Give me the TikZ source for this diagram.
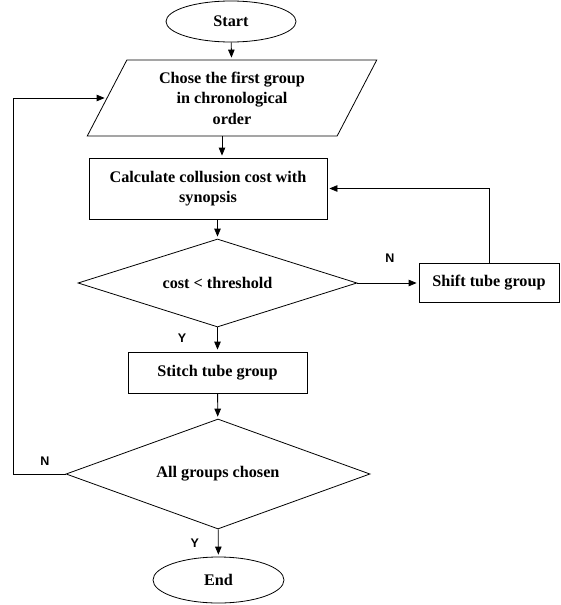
\documentclass[tikz,border=0pt]{standalone}
\usepackage{fontspec}
\setmainfont{Liberation Serif}
\newfontfamily\yesnofont{Liberation Sans}
\usetikzlibrary{shapes.geometric,arrows.meta}

\begin{document}
\begin{tikzpicture}[->,>={Triangle[length=8pt,width=6.5pt]},shorten >=2pt,auto,
                    thick,x=1pt,y=-1pt,node distance=90pt,
                    font=\fontsize{16.2}{20.5}\selectfont\bfseries]
\tikzstyle{terminal}=[draw,ellipse,minimum width=130pt,minimum height=41pt,inner sep=0pt]
\tikzstyle{io}=[draw,trapezium,trapezium left angle=53,trapezium right angle=127,
                trapezium stretches body,minimum width=289.5pt,minimum height=76pt,
                align=center,inner sep=0pt]
\tikzstyle{process}=[draw,rectangle,align=center,inner sep=0pt]
\tikzstyle{decision}=[draw,diamond,inner sep=0pt]
\tikzstyle{yesno}=[font=\fontsize{12.5}{14}\selectfont\yesnofont\bfseries,inner sep=1pt]
\useasboundingbox (0,0) rectangle (560,605);
\node[terminal] (start) at (231,21.5) {Start};
\node[io] (first) [node distance=76.5pt,below of=start,xshift=1pt]
     {Chose the first group\\in chronological\\order};
\node[process,minimum width=238pt,minimum height=61pt] (calc)
     [node distance=90.5pt,below of=first,xshift=-24pt]
     {Calculate collusion cost with\\synopsis};
\node[decision,aspect=3.17,minimum width=279pt,minimum height=88pt] (costok)
     [node distance=94.5pt,below of=calc,xshift=9.5pt] {cost < threshold};
\node[process,minimum width=140pt,minimum height=39pt] (shift)
     [node distance=271.5pt,right of=costok] {Shift tube group};
\node[process,minimum width=179pt,minimum height=41pt] (stitch)
     [node distance=89.5pt,below of=costok] {Stitch tube group};
\node[decision,aspect=2.76,minimum width=304pt,minimum height=110pt] (allchosen)
     [node distance=101.5pt,below of=stitch,xshift=0.5pt] {All groups chosen};
\node[terminal,minimum width=131pt,minimum height=46pt] (end)
     [node distance=106pt,below of=allchosen,xshift=0.5pt] {End};
\path (start) edge (first)
      ([xshift=14pt]calc.north |- first.south) edge ([xshift=14pt]calc.north)
      (calc.south -| costok.north) edge (costok.north)
      (costok) edge node[yesno,pos=0.53,above=19pt]{N} (shift)
      (costok) edge node[yesno,pos=0.43,left=30pt]{Y} (stitch)
      (stitch) edge (allchosen)
      (allchosen) edge node[yesno,pos=0.5,left=18pt]{Y} (end);
\draw (shift.north) |- (calc.east);
\draw (allchosen.west) -- node[yesno,pos=0.4,above=7.5pt]{N} ++(-52,0) |- (first);
\end{tikzpicture}
\end{document}
